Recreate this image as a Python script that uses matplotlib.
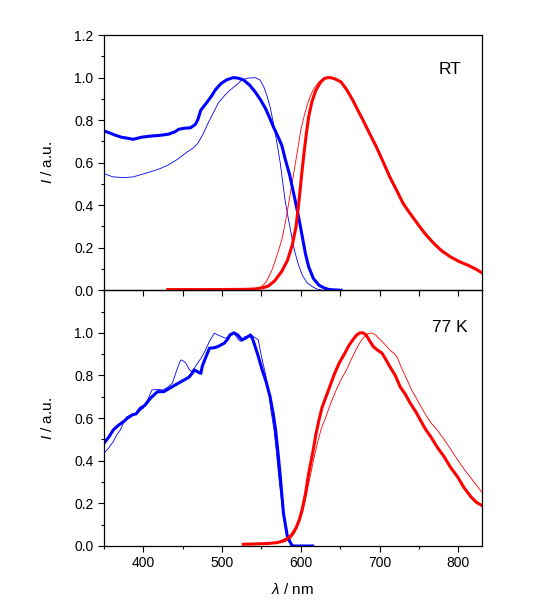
import matplotlib

matplotlib.use("Agg")
import matplotlib.pyplot as plt
from matplotlib.ticker import MultipleLocator, FixedLocator

plt.rcParams["font.family"] = ["Liberation Sans", "DejaVu Sans"]
plt.rcParams["mathtext.fontset"] = "custom"
plt.rcParams["mathtext.it"] = "Liberation Sans:italic"
plt.rcParams["mathtext.rm"] = "Liberation Sans"

# --- RT: excitation (blue) ---
rt_exc_thick_x = [350, 357, 364, 372, 380, 387, 398, 409, 420, 432, 440, 445, 452, 460,
                  466, 469, 473, 480, 486, 492, 499, 506, 514, 520, 527, 535, 542, 549,
                  555, 560, 565, 572, 576, 580, 586, 593, 598, 602, 606, 610, 616, 623,
                  630, 636, 651]
rt_exc_thick_y = [0.75, 0.74, 0.73, 0.72, 0.715, 0.71, 0.72, 0.725, 0.728, 0.734, 0.745,
                  0.757, 0.762, 0.764, 0.78, 0.80, 0.847, 0.88, 0.91, 0.945, 0.973, 0.99,
                  1.0, 0.998, 0.99, 0.965, 0.933, 0.895, 0.856, 0.815, 0.77, 0.715, 0.68,
                  0.62, 0.54, 0.42, 0.33, 0.25, 0.17, 0.11, 0.055, 0.024, 0.01, 0.003, 0.0]
rt_exc_thin_x = [350, 356, 362, 375, 387, 398, 409, 420, 431, 443, 456, 463, 469, 476,
                 482, 489, 495, 503, 510, 518, 525, 533, 542, 548, 553, 557, 561, 565,
                 568, 571, 574, 577, 580, 584, 587, 590, 593, 597, 602, 608, 615, 621,
                 627]
rt_exc_thin_y = [0.55, 0.54, 0.533, 0.53, 0.533, 0.545, 0.557, 0.57, 0.588, 0.615, 0.651,
                 0.668, 0.69, 0.735, 0.784, 0.835, 0.879, 0.915, 0.941, 0.965, 0.988,
                 0.998, 1.0, 0.99, 0.957, 0.915, 0.863, 0.79, 0.73, 0.665, 0.596, 0.51,
                 0.424, 0.34, 0.282, 0.22, 0.173, 0.12, 0.07, 0.035, 0.016, 0.005, 0.0]

# --- RT: emission (red) ---
rt_em_thick_x = [431, 480, 530, 542, 552, 559, 567, 576, 583, 589, 594, 598, 601, 604,
                 607, 610, 614, 619, 625, 630, 634, 638, 644, 651, 658, 666, 672, 679,
                 687, 696, 705, 713, 722, 730, 739, 748, 758, 769, 779, 790, 801, 812,
                 822, 830]
rt_em_thick_y = [0.003, 0.003, 0.004, 0.006, 0.012, 0.02, 0.045, 0.09, 0.14, 0.21, 0.3,
                 0.43, 0.54, 0.643, 0.735, 0.816, 0.885, 0.94, 0.978, 0.996, 1.0, 1.0,
                 0.993, 0.98, 0.945, 0.894, 0.85, 0.80, 0.74, 0.674, 0.6, 0.533, 0.468,
                 0.408, 0.36, 0.314, 0.265, 0.22, 0.185, 0.157, 0.135, 0.118, 0.1, 0.082]
rt_em_thin_x = [542, 550, 555, 559, 564, 568, 572, 576, 581, 586, 591, 596, 600, 605,
                610, 616, 623, 628, 634, 640, 651, 666, 679, 696, 713, 730, 748, 769, 790,
                812, 830]
rt_em_thin_y = [0.0, 0.016, 0.035, 0.06, 0.1, 0.145, 0.19, 0.24, 0.33, 0.44, 0.55, 0.66,
                0.755, 0.83, 0.894, 0.945, 0.98, 0.995, 1.0, 0.998, 0.98, 0.894, 0.80,
                0.674, 0.533, 0.408, 0.314, 0.22, 0.157, 0.118, 0.082]

# --- 77 K: excitation (blue) ---
lt_exc_thick_x = [350, 356, 362, 368, 375, 380, 386, 391, 396, 402, 409, 418, 426, 437,
                  448, 458, 462, 465, 470, 473, 475, 478, 484, 490, 495, 503, 507, 510,
                  515, 520, 525, 530, 536, 539, 542, 546, 551, 556, 561, 565, 568, 571,
                  574, 578, 583, 589, 615]
lt_exc_thick_y = [0.482, 0.51, 0.545, 0.565, 0.584, 0.6, 0.615, 0.62, 0.646, 0.66, 0.693,
                  0.724, 0.724, 0.748, 0.771, 0.792, 0.81, 0.826, 0.815, 0.81, 0.845,
                  0.873, 0.928, 0.93, 0.936, 0.952, 0.97, 0.99, 1.0, 0.99, 0.967, 0.975,
                  0.99, 0.97, 0.936, 0.89, 0.826, 0.77, 0.70, 0.62, 0.545, 0.44, 0.325,
                  0.153, 0.044, 0.0, 0.0]
lt_exc_thin_x = [350, 356, 362, 366, 371, 375, 379, 383, 388, 394, 400, 406, 411, 418,
                 425, 431, 437, 442, 446, 448, 451, 454, 458, 461, 465, 469, 474, 478,
                 484, 490, 495, 499, 504, 510, 515, 521, 525, 529, 533, 537, 541, 546,
                 550, 555, 559, 562, 566, 569, 572, 575, 578, 581, 585, 592]
lt_exc_thin_y = [0.435, 0.46, 0.49, 0.52, 0.545, 0.58, 0.607, 0.612, 0.615, 0.63, 0.646,
                 0.69, 0.732, 0.735, 0.732, 0.745, 0.764, 0.82, 0.86, 0.873, 0.868, 0.858,
                 0.83, 0.818, 0.835, 0.858, 0.885, 0.912, 0.96, 0.998, 0.99, 0.983, 0.975,
                 0.983, 1.0, 0.967, 0.96, 0.983, 0.985, 0.99, 0.98, 0.967, 0.89, 0.81,
                 0.732, 0.64, 0.545, 0.44, 0.325, 0.23, 0.14, 0.07, 0.02, 0.0]

# --- 77 K: emission (red) ---
lt_em_thick_x = [527, 545, 559, 570, 576, 583, 589, 594, 598, 602, 606, 610, 615, 619,
                 623, 627, 632, 637, 643, 649, 656, 661, 666, 671, 675, 679, 683, 687,
                 692, 697, 703, 708, 713, 720, 726, 733, 739, 746, 752, 758, 765, 773,
                 782, 790, 799, 807, 816, 823, 830]
lt_em_thick_y = [0.008, 0.01, 0.012, 0.016, 0.022, 0.035, 0.055, 0.085, 0.122, 0.175,
                 0.247, 0.34, 0.435, 0.52, 0.59, 0.65, 0.70, 0.75, 0.81, 0.86, 0.905, 0.94,
                 0.967, 0.99, 1.0, 1.0, 0.99, 0.965, 0.936, 0.92, 0.905, 0.875, 0.842,
                 0.8, 0.748, 0.71, 0.67, 0.63, 0.59, 0.55, 0.513, 0.465, 0.419, 0.37,
                 0.325, 0.275, 0.231, 0.205, 0.19]
lt_em_thin_x = [560, 580, 587, 592, 597, 602, 606, 611, 616, 621, 626, 632, 638, 645,
                651, 658, 664, 670, 676, 681, 685, 690, 695, 701, 707, 713, 718, 722, 728,
                735, 741, 748, 754, 760, 766, 773, 782, 791, 799, 808, 819, 830]
lt_em_thin_y = [0.01, 0.02, 0.035, 0.06, 0.1, 0.153, 0.22, 0.31, 0.4, 0.482, 0.55, 0.607,
                0.67, 0.732, 0.78, 0.826, 0.875, 0.92, 0.96, 0.983, 0.995, 1.0, 0.99,
                0.967, 0.945, 0.92, 0.905, 0.889, 0.835, 0.78, 0.73, 0.685, 0.645, 0.607,
                0.575, 0.545, 0.5, 0.45, 0.405, 0.357, 0.305, 0.252]

BLUE = "#0000ff"
RED = "#ff0000"
THICK = 2.2
THIN = 0.6

fig = plt.figure(figsize=(5.47, 6.11), dpi=100)
ax_top = fig.add_axes([0.190, 0.525, 0.691, 0.4175])
ax_bot = fig.add_axes([0.190, 0.1064, 0.691, 0.4186], sharex=ax_top)
# keep the top panel's outward x ticks visible over the lower panel
ax_top.set_zorder(2)
ax_top.patch.set_visible(False)

ax_top.plot(rt_exc_thin_x, rt_exc_thin_y, color=BLUE, lw=THIN)
ax_top.plot(rt_em_thin_x, rt_em_thin_y, color=RED, lw=THIN)
ax_top.plot(rt_exc_thick_x, rt_exc_thick_y, color=BLUE, lw=THICK)
ax_top.plot(rt_em_thick_x, rt_em_thick_y, color=RED, lw=THICK)

ax_bot.plot(lt_exc_thin_x, lt_exc_thin_y, color=BLUE, lw=THIN)
ax_bot.plot(lt_em_thin_x, lt_em_thin_y, color=RED, lw=THIN)
ax_bot.plot(lt_exc_thick_x, lt_exc_thick_y, color=BLUE, lw=THICK)
ax_bot.plot(lt_em_thick_x, lt_em_thick_y, color=RED, lw=THICK)

for ax in (ax_top, ax_bot):
    ax.set_xlim(350, 830)
    ax.set_ylim(0, 1.2)
    ax.xaxis.set_major_locator(MultipleLocator(100))
    ax.xaxis.set_minor_locator(MultipleLocator(50))
    ax.yaxis.set_minor_locator(MultipleLocator(0.1))
    ax.tick_params(which="both", direction="out", top=False, right=False,
                   labelsize=10, width=0.8)
    ax.tick_params(which="major", length=4)
    ax.tick_params(which="minor", length=2.5)
    ax.set_ylabel(r"$I$ / a.u.", fontsize=11, labelpad=14)
    for sp in ax.spines.values():
        sp.set_linewidth(0.9)

ax_top.set_yticks([0.0, 0.2, 0.4, 0.6, 0.8, 1.0, 1.2])
ax_top.yaxis.set_major_formatter(plt.FormatStrFormatter("%.1f"))
ax_top.tick_params(axis="x", which="both", labelbottom=False)
ax_top.tick_params(axis="x", which="minor", length=4)

ax_bot.yaxis.set_major_locator(FixedLocator([0.0, 0.2, 0.4, 0.6, 0.8, 1.0]))
ax_bot.yaxis.set_major_formatter(plt.FormatStrFormatter("%.1f"))
ax_bot.set_xlabel(r"$\lambda$ / nm", fontsize=11, labelpad=8)

ax_top.text(0.915, 0.867, "RT", transform=ax_top.transAxes, ha="center",
            va="center", fontsize=12.5)
ax_bot.text(0.915, 0.855, "77 K", transform=ax_bot.transAxes, ha="center",
            va="center", fontsize=12.5)

fig.savefig("out.png", dpi=100)
